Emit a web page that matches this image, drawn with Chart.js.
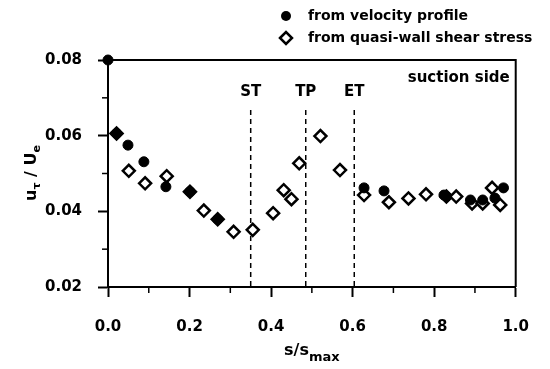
<!DOCTYPE html>
<html>
<head>
<meta charset="utf-8">
<script src="https://cdn.jsdelivr.net/npm/chart.js@4/dist/chart.umd.min.js"></script>
<style>
  html, body { margin: 0; padding: 0; background: #fff; }
  #wrap { width: 550px; height: 369px; }
</style>
</head>
<body>
<div id="wrap"><canvas id="chart" width="550" height="369"></canvas></div>
<script>
// friction velocity from velocity profile (filled circles)
const velX = [0, 0.021, 0.049, 0.088, 0.142, 0.201, 0.269, 0.628, 0.677, 0.824, 0.830, 0.889, 0.919, 0.949, 0.970];
const velY = [0.080, 0.0606, 0.0575, 0.0531, 0.0465, 0.0452, 0.0379, 0.0462, 0.0454, 0.0443, 0.0439, 0.0430, 0.0430, 0.0435, 0.0462];

// from quasi-wall shear stress (open diamonds)
const quasiX = [0.021, 0.051, 0.091, 0.144, 0.201, 0.235, 0.269, 0.308, 0.355, 0.405, 0.431, 0.450, 0.469, 0.521, 0.569, 0.628, 0.689, 0.737, 0.780, 0.830, 0.854, 0.893, 0.919, 0.942, 0.962];
const quasiY = [0.0606, 0.0507, 0.0474, 0.0493, 0.0452, 0.0402, 0.0379, 0.0346, 0.0351, 0.0395, 0.0456, 0.0432, 0.0527, 0.0599, 0.0509, 0.0443, 0.0424, 0.0434, 0.0445, 0.0439, 0.0439, 0.0421, 0.0421, 0.0462, 0.0417];

// transition markers (start, turning point, end)
const markLabels = ['ST', 'TP', 'ET'];
const markX = [0.35, 0.485, 0.604];
const markTop = 0.0668;

const seriesNames = ['from velocity profile', 'from quasi-wall shear stress'];

const FONT = 'DejaVu Sans';

function pts(xs, ys) {
    return xs.map((x, i) => ({ x: x, y: ys[i] }));
}

const datasets = [
    {
        label: seriesNames[0],
        data: pts(velX, velY),
        pointStyle: 'circle',
        pointRadius: 5,
        backgroundColor: '#000',
        borderColor: '#000',
        borderWidth: 1,
        clip: false
    },
    {
        label: seriesNames[1],
        data: pts(quasiX, quasiY),
        pointStyle: 'rectRot',
        pointRadius: 6,
        backgroundColor: '#fff',
        borderColor: '#000',
        borderWidth: 2.5,
        clip: false
    }
];

// dashed vertical lines, drawn as line datasets
markX.forEach((mx) => {
    datasets.push({
        label: '',
        data: [{ x: mx, y: markTop }, { x: mx, y: 0.02 }],
        showLine: true,
        pointRadius: 0,
        borderColor: '#000',
        borderWidth: 1.5,
        borderDash: [5, 4]
    });
});

// frame, minor ticks, titles, legend, labels
const decorPlugin = {
    id: 'decor',
    afterDraw(chart) {
        const ctx = chart.ctx;
        const a = chart.chartArea;
        const xs = chart.scales.x;
        const ys = chart.scales.y;
        ctx.save();
        ctx.strokeStyle = '#000';
        ctx.fillStyle = '#000';

        // top and right frame
        ctx.lineWidth = 2;
        ctx.beginPath();
        ctx.moveTo(a.left, a.top);
        ctx.lineTo(a.right, a.top);
        ctx.lineTo(a.right, a.bottom);
        ctx.stroke();

        // minor ticks
        ctx.lineWidth = 1.5;
        [0.1, 0.3, 0.5, 0.7, 0.9].forEach((v) => {
            const px = xs.getPixelForValue(v);
            ctx.beginPath();
            ctx.moveTo(px, a.bottom);
            ctx.lineTo(px, a.bottom + 6);
            ctx.stroke();
        });
        [0.03, 0.05, 0.07].forEach((v) => {
            const py = ys.getPixelForValue(v);
            ctx.beginPath();
            ctx.moveTo(a.left, py);
            ctx.lineTo(a.left - 6, py);
            ctx.stroke();
        });

        // marker labels
        ctx.font = 'bold 15px ' + FONT;
        ctx.textAlign = 'center';
        ctx.textBaseline = 'middle';
        markLabels.forEach((t, i) => {
            ctx.fillText(t, xs.getPixelForValue(markX[i]), 92);
        });

        // suction side
        ctx.textAlign = 'right';
        ctx.fillText('suction side', a.right - 6, 78);

        // legend
        ctx.font = 'bold 14px ' + FONT;
        ctx.textAlign = 'left';
        ctx.beginPath();
        ctx.arc(286, 16, 5, 0, Math.PI * 2);
        ctx.fill();
        ctx.fillText(seriesNames[0], 308, 16);
        ctx.lineWidth = 2.5;
        ctx.beginPath();
        ctx.moveTo(280, 38);
        ctx.lineTo(286, 32);
        ctx.lineTo(292, 38);
        ctx.lineTo(286, 44);
        ctx.closePath();
        ctx.stroke();
        ctx.fillText(seriesNames[1], 308, 38);

        // x title: s/s_max
        const main = 's/s';
        const sub = 'max';
        ctx.font = 'bold 16px ' + FONT;
        const w1 = ctx.measureText(main).width;
        ctx.font = 'bold 13px ' + FONT;
        const w2 = ctx.measureText(sub).width;
        const cx = (a.left + a.right) / 2;
        const sx = cx - (w1 + w2) / 2;
        ctx.textBaseline = 'alphabetic';
        ctx.font = 'bold 16px ' + FONT;
        ctx.fillText(main, sx, 355);
        ctx.font = 'bold 13px ' + FONT;
        ctx.fillText(sub, sx + w1, 361);

        // y title: u_tau / U_e
        ctx.translate(30, 173);
        ctx.rotate(-Math.PI / 2);
        const parts = [['u', 16, 0], ['\u03c4', 11, 4], [' / U', 16, 0], ['e', 11, 4]];
        let tot = 0;
        parts.forEach((p) => {
            ctx.font = 'bold ' + p[1] + 'px ' + FONT;
            tot += ctx.measureText(p[0]).width;
        });
        let px = -tot / 2;
        parts.forEach((p) => {
            ctx.font = 'bold ' + p[1] + 'px ' + FONT;
            ctx.fillText(p[0], px, 6 + p[2]);
            px += ctx.measureText(p[0]).width;
        });
        ctx.restore();
    }
};

new Chart(document.getElementById('chart'), {
    type: 'scatter',
    data: { datasets: datasets },
    options: {
        responsive: false,
        animation: false,
        layout: { padding: { left: 0, top: 60, right: 20, bottom: 0 } },
        plugins: {
            legend: { display: false },
            tooltip: { enabled: false }
        },
        scales: {
            x: {
                type: 'linear',
                min: 0,
                max: 1,
                afterFit(scale) { scale.height = 82; },
                border: { display: true, color: '#000', width: 2 },
                grid: {
                    drawOnChartArea: false,
                    tickLength: 10,
                    tickWidth: 2,
                    tickColor: (c) => (Math.round(c.tick.value * 10) % 2 === 0 ? '#000' : 'rgba(0,0,0,0)')
                },
                ticks: {
                    stepSize: 0.1,
                    padding: 21,
                    color: '#000',
                    font: { family: FONT, size: 15, weight: 'bold' },
                    maxRotation: 0,
                    autoSkip: false,
                    callback: (v) => (Math.round(v * 10) % 2 === 0 ? v.toFixed(1) : '')
                }
            },
            y: {
                type: 'linear',
                min: 0.02,
                max: 0.08,
                afterFit(scale) { scale.width = 108; },
                border: { display: true, color: '#000', width: 2 },
                grid: {
                    drawOnChartArea: false,
                    tickLength: 10,
                    tickWidth: 2,
                    tickColor: (c) => (Math.round(c.tick.value * 100) % 2 === 0 ? '#000' : 'rgba(0,0,0,0)')
                },
                ticks: {
                    stepSize: 0.01,
                    padding: 16,
                    color: '#000',
                    font: { family: FONT, size: 15, weight: 'bold' },
                    autoSkip: false,
                    callback: (v) => (Math.round(v * 100) % 2 === 0 ? v.toFixed(2) : '')
                }
            }
        }
    },
    plugins: [decorPlugin]
});
</script>
</body>
</html>
